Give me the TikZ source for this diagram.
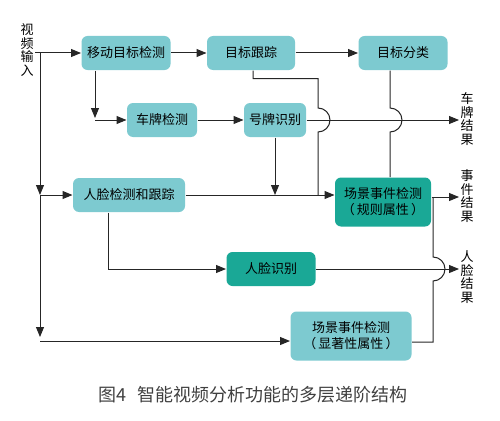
\documentclass[tikz,border=0pt]{standalone}
\usepackage{fontspec}
\setmainfont{Noto Sans CJK SC}
\usepackage{xcolor}
\usetikzlibrary{arrows.meta,positioning}
\definecolor{boxlight}{RGB}{125,202,208}
\definecolor{boxdark}{RGB}{26,168,150}

\begin{document}
\begin{tikzpicture}[x=1pt, y=-1pt, line width=1pt, draw=black!85,
    >={Triangle[length=10pt,width=8pt]},
    every node/.style={font=\fontsize{13}{16}\selectfont, align=center},
    proc/.style={rounded corners=6pt, fill=boxlight, minimum height=34pt, inner sep=2pt},
    procdk/.style={proc, fill=boxdark},
    vlabel/.style={font=\fontsize{13}{13.5}\selectfont, inner sep=1pt}]
  \useasboundingbox (0,0) rectangle (500,420);
  % processing boxes
  \node[proc, minimum width=89pt] (ydjc) at (126,53) {移动目标检测};
  \node[proc, minimum width=88pt] (mbgz) at (251,53) {目标跟踪};
  \node[proc, minimum width=89pt] (mbfl) at (403,53) {目标分类};
  \node[proc, minimum width=70pt] (cpjc) at (162,120) {车牌检测};
  \node[proc, minimum width=62pt] (hpsb) at (275,120) {号牌识别};
  \node[proc, minimum width=112pt] (rljc) at (129,195) {人脸检测和跟踪};
  \node[procdk, minimum width=96pt, minimum height=49pt]
    (gzsx) at (383,202) {场景事件检测\\（\,规则属性\,）};
  \node[procdk, minimum width=89pt] (rlsb) at (271,269) {人脸识别};
  \node[proc, minimum width=121pt, minimum height=49pt]
    (xzsx) at (351,336) {场景事件检测\\（\,显著性属性\,）};
  % input and results
  \node[vlabel] (input) at (27,50) {视\\频\\输\\入};
  \node[vlabel] (cpjg) at (467,119) {车\\牌\\结\\果};
  \node[vlabel] (sjjg) at (467,196) {事\\件\\结\\果};
  \node[vlabel] (rljg) at (467,277) {人\\脸\\结\\果};
  \node[font=\fontsize{18}{21}\selectfont, text=black!75]
    (caption) at (253,395) {图4\hspace{0.6em}智能视频分析功能的多层递阶结构};
  % junctions
  \coordinate (tap) at (40,53);
  \coordinate (fork1) at (40,195);
  \coordinate (fork2) at (40,337);
  \coordinate (low) at (40,341);
  \coordinate (c1) at (95,120);
  \coordinate (c2) at (108,269);
  \coordinate (j1) at (318,120);
  \coordinate (j2) at (390,120);
  \coordinate (j3) at (433,269);
  % connectors
  \draw[->] (input.east |- ydjc) -- (ydjc);
  \draw[->] (tap) -- (fork1);
  \draw[->] (fork1) -- (rljc);
  \draw[->] (fork1) -- (fork2);
  \draw[->] (low) -- (low -| xzsx.west);
  \draw[->] (ydjc.south -| c1) -- ([yshift=2pt]c1);
  \draw[->] (c1) -- (cpjc);
  \draw[->] (ydjc) -- (mbgz);
  \draw[->] (mbgz) -- (mbfl);
  \draw[->] (cpjc) -- (hpsb);
  \draw[->] (hpsb) -- (hpsb -| cpjg.west);
  \draw[->] (hpsb.south) -- (hpsb.south |- rljc);
  \draw[->] (rljc) -- (rljc -| gzsx.west);
  \draw[->] (rljc.south -| c2) |- (rlsb);
  \draw[->] (rlsb) -- (rlsb -| rljg.west);
  \draw[->] ([yshift=5pt]gzsx.east) -- ([yshift=5pt]gzsx.east -| sjjg.west);
  \draw ([xshift=2pt]mbgz.south) -- ++(0,8) -| ([yshift=12pt]j1)
    arc[start angle=90, end angle=-90, radius=12pt] -- (j1 |- rljc);
  \draw (mbfl.south -| j2) -- ([yshift=12pt]j2)
    arc[start angle=90, end angle=-90, radius=12pt] -- (j2 |- gzsx.north);
  \draw ([yshift=-6pt]xzsx.east) -| ([yshift=-12pt]j3)
    arc[start angle=-90, end angle=90, radius=12pt]
    -- ([yshift=5pt]gzsx.east -| j3);
\end{tikzpicture}
\end{document}
